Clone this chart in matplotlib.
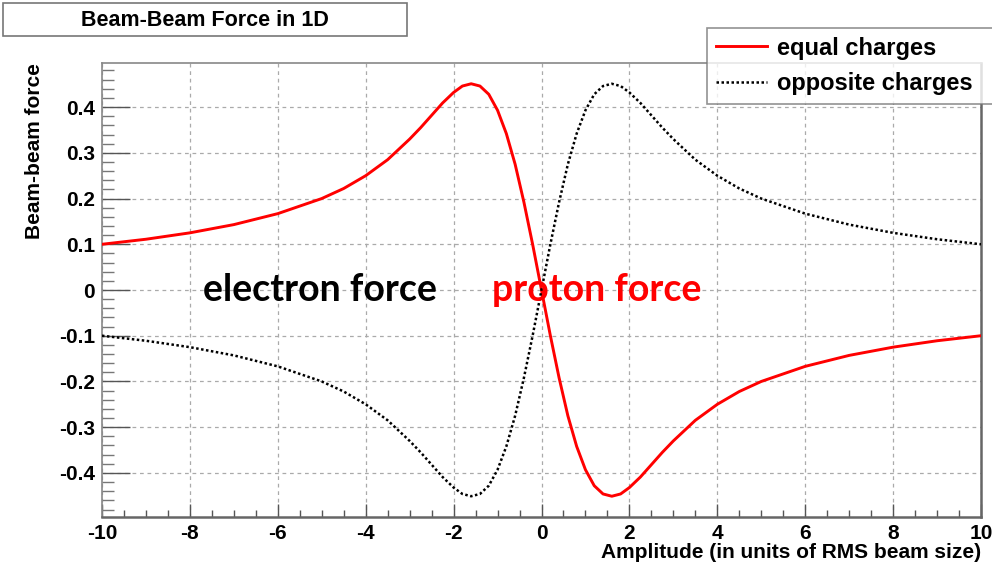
import matplotlib
matplotlib.use("Agg")
import matplotlib.pyplot as plt
from matplotlib.ticker import MultipleLocator

# amplitude in units of rms beam size
amplitude = [-10, -9, -8, -7, -6, -5, -4.5, -4, -3.5, -3, -2.75, -2.5, -2.25, -2,
             -1.8, -1.6, -1.4, -1.2, -1, -0.8, -0.6, -0.4, -0.2, 0,
             0.2, 0.4, 0.6, 0.8, 1, 1.2, 1.4, 1.6, 1.8, 2, 2.25, 2.5, 2.75, 3,
             3.5, 4, 4.5, 5, 6, 7, 8, 9, 10]

force_equal = [0.100, 0.111, 0.125, 0.143, 0.167, 0.200, 0.222, 0.250, 0.285,
               0.330, 0.355, 0.382, 0.409, 0.432, 0.446, 0.451, 0.446, 0.428,
               0.393, 0.342, 0.275, 0.192, 0.099, 0.000,
               -0.099, -0.192, -0.275, -0.342, -0.393, -0.428, -0.446, -0.451,
               -0.446, -0.432, -0.409, -0.382, -0.355, -0.330, -0.285, -0.250,
               -0.222, -0.200, -0.167, -0.143, -0.125, -0.111, -0.100]

force_opposite = [-0.100, -0.111, -0.125, -0.143, -0.167, -0.200, -0.222, -0.250,
                  -0.285, -0.330, -0.355, -0.382, -0.409, -0.432, -0.446, -0.451,
                  -0.446, -0.428, -0.393, -0.342, -0.275, -0.192, -0.099, 0.000,
                  0.099, 0.192, 0.275, 0.342, 0.393, 0.428, 0.446, 0.451, 0.446,
                  0.432, 0.409, 0.382, 0.355, 0.330, 0.285, 0.250, 0.222, 0.200,
                  0.167, 0.143, 0.125, 0.111, 0.100]

xticks = [-10, -8, -6, -4, -2, 0, 2, 4, 6, 8, 10]
yticks = [-0.4, -0.3, -0.2, -0.1, 0, 0.1, 0.2, 0.3, 0.4]
ytick_labels = ["-0.4", "-0.3", "-0.2", "-0.1", "0", "0.1", "0.2", "0.3", "0.4"]

W, H = 992, 566
fig = plt.figure(figsize=(W / 100, H / 100), dpi=100)
fig.patch.set_facecolor("white")

root_font = "Liberation Sans"
label_size = 15

# plot frame in pixels: left 102, right 981, top 63, bottom 517
ax = fig.add_axes([102 / W, 1 - 517 / H, (981 - 102) / W, (517 - 63) / H])
ax.set_xlim(-10, 10)
ax.set_ylim(-0.4964, 0.4964)

ax.plot(amplitude, force_equal, color="red", lw=2.1, label="equal charges", zorder=3)
ax.plot(amplitude, force_opposite, color="black", lw=1.8, linestyle=(0, (1, 1)),
        label="opposite charges", zorder=3)

ax.set_xticks(xticks)
ax.set_xticklabels([str(t) for t in xticks])
ax.set_yticks(yticks)
ax.set_yticklabels(ytick_labels)
ax.xaxis.set_minor_locator(MultipleLocator(0.5))
ax.yaxis.set_minor_locator(MultipleLocator(0.02))
ax.tick_params(axis="x", which="major", direction="in", length=9.5, width=1.0,
               color="#555555", pad=5)
ax.tick_params(axis="x", which="minor", direction="in", length=5, width=1.0,
               color="#555555")
ax.tick_params(axis="y", which="major", direction="in", length=20, width=1.0,
               color="#555555", pad=5)
ax.tick_params(axis="y", which="minor", direction="in", length=8.5, width=1.0,
               color="#777777")
for lab in ax.get_xticklabels() + ax.get_yticklabels():
    lab.set_fontfamily(root_font)
    lab.set_fontweight("bold")
    lab.set_fontsize(label_size)

ax.grid(True, which="major", color="#aaaaaa", linestyle=(0, (3, 3)), lw=0.9)
ax.set_axisbelow(True)

for side in ["left", "top"]:
    ax.spines[side].set_color("#888888")
    ax.spines[side].set_linewidth(1.2)
for side in ["right", "bottom"]:
    ax.spines[side].set_color("#666666")
    ax.spines[side].set_linewidth(1.8)

fig.text(35 / W, 1 - 63 / H, "Beam-beam force", rotation=90, ha="center", va="top",
         fontfamily=root_font, fontweight="bold", fontsize=label_size)
fig.text(981 / W, 1 - 552 / H, "Amplitude (in units of RMS beam size)", ha="right",
         va="center", fontfamily=root_font, fontweight="bold", fontsize=label_size)

# title box
fig.patches.append(plt.Rectangle((3 / W, 1 - 36 / H), 404 / W, 33 / H,
                                 transform=fig.transFigure, facecolor="white",
                                 edgecolor="#777777", lw=1.2))
fig.text(205 / W, 1 - 20 / H, "Beam-Beam Force in 1D", ha="center", va="center",
         fontfamily=root_font, fontweight="bold", fontsize=15.5)

# legend box overlapping the top right of the frame, running off the right edge
leg = ax.legend(loc="upper left", bbox_to_anchor=(707 / W, 1 - 102 / H, 295 / W, 74 / H),
                bbox_transform=fig.transFigure, mode="expand", frameon=True,
                fancybox=False, borderaxespad=0, handlelength=2.2, handletextpad=0.4,
                borderpad=0.36, labelspacing=0.55,
                prop={"family": root_font, "weight": "bold", "size": 17})
leg.get_frame().set_edgecolor("#777777")
leg.get_frame().set_linewidth(1.2)
leg.set_zorder(10)

ax.text(-7.7, 0.0, "electron force", ha="left", va="center", fontfamily="Lato",
        fontweight="bold", fontsize=27, color="black", zorder=5)
ax.text(-1.13, 0.0, "proton force", ha="left", va="center", fontfamily="Lato",
        fontweight="bold", fontsize=27, color="red", zorder=5)

fig.savefig("out.png", dpi=100)
